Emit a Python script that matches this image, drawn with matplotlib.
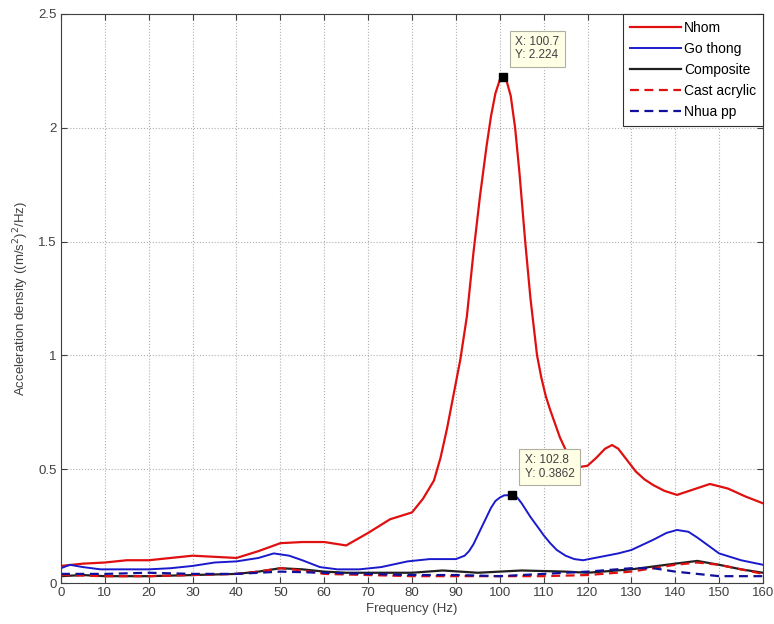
import numpy as np
import matplotlib.pyplot as plt

# PSD curves for the five plate materials (frequency in Hz, density in (m/s^2)^2/Hz)
f_nhom = [0, 5, 10, 15, 20, 25, 30, 35, 40, 45, 50, 55, 60, 65, 70, 75, 80, 82.5,
          85, 86.5, 88, 89.5, 91, 92.5, 94, 95.5, 97, 98, 99, 100, 100.7, 101.5,
          102.5, 103.5, 104.5, 105.8, 107, 108.5, 109.5, 110.5, 111.5, 112.6,
          113.7, 114.9, 116, 117.2, 118.3, 120, 122, 124, 125.6, 127, 129, 131,
          133, 135, 137.5, 140.4, 144, 147.9, 152, 156, 160]
nhom = [0.075, 0.085, 0.09, 0.10, 0.10, 0.11, 0.12, 0.115, 0.11, 0.14, 0.175,
        0.18, 0.18, 0.165, 0.22, 0.28, 0.31, 0.37, 0.45, 0.55, 0.68, 0.83, 0.98,
        1.17, 1.45, 1.70, 1.92, 2.05, 2.15, 2.21, 2.224, 2.21, 2.14, 2.0, 1.8,
        1.5, 1.25, 1.0, 0.9, 0.82, 0.76, 0.70, 0.64, 0.59, 0.55, 0.52, 0.51,
        0.515, 0.55, 0.59, 0.606, 0.59, 0.54, 0.49, 0.455, 0.43, 0.405, 0.387,
        0.41, 0.435, 0.415, 0.38, 0.35]

f_go = [0, 2, 5, 9, 15, 20, 25, 30, 35, 40, 45, 48.5, 52, 55, 59, 63, 68, 73,
        79, 84, 90, 92, 93, 94, 95, 96, 97, 98, 99, 100, 101, 102.8, 104, 105,
        106, 107, 108.7, 110, 111.5, 113, 115, 117, 119, 123, 127, 130, 135,
        138, 140.4, 143, 145, 150, 155, 160]
go_thong = [0.065, 0.08, 0.07, 0.06, 0.06, 0.06, 0.065, 0.075, 0.09, 0.095,
            0.11, 0.13, 0.12, 0.10, 0.07, 0.06, 0.06, 0.07, 0.095, 0.105, 0.105,
            0.12, 0.14, 0.17, 0.21, 0.25, 0.29, 0.33, 0.36, 0.375, 0.385,
            0.3862, 0.375, 0.35, 0.32, 0.29, 0.245, 0.21, 0.175, 0.145, 0.12,
            0.105, 0.10, 0.115, 0.13, 0.145, 0.19, 0.22, 0.233, 0.225, 0.20,
            0.13, 0.10, 0.08]

f_comp = [0, 5, 10, 20, 30, 40, 45, 50, 55, 60, 65, 70, 80, 87, 95, 105, 115,
          120, 130, 140, 145, 150, 155, 160]
composite = [0.03, 0.035, 0.03, 0.03, 0.035, 0.04, 0.05, 0.065, 0.06, 0.05,
             0.045, 0.045, 0.045, 0.055, 0.045, 0.055, 0.05, 0.045, 0.06, 0.085,
             0.097, 0.08, 0.06, 0.045]

f_acr = [0, 10, 20, 30, 40, 45, 50, 55, 60, 70, 80, 90, 100, 110, 120, 130,
         140, 145, 150, 160]
cast_acrylic = [0.035, 0.03, 0.03, 0.035, 0.04, 0.05, 0.065, 0.055, 0.04,
                0.035, 0.03, 0.03, 0.03, 0.03, 0.035, 0.05, 0.08, 0.09, 0.08,
                0.04]

f_pp = [0, 10, 20, 30, 40, 50, 60, 70, 80, 90, 100, 110, 120, 130, 135, 140,
        150, 160]
nhua_pp = [0.04, 0.04, 0.045, 0.04, 0.04, 0.05, 0.045, 0.04, 0.035, 0.035,
           0.03, 0.04, 0.05, 0.065, 0.065, 0.05, 0.03, 0.03]

# data cursors
tips = [(100.7, 2.224), (102.8, 0.3862)]

plt.rcParams['font.family'] = ['Liberation Sans', 'DejaVu Sans']
plt.rcParams['font.size'] = 9.5
txt = '#404040'

fig = plt.figure(figsize=(7.74, 6.24), dpi=100)
ax = fig.add_axes([0.0788, 0.0657, 0.907, 0.912])

ax.plot(f_nhom, nhom, color='#e01010', lw=1.6, label='Nhom')
ax.plot(f_go, go_thong, color='#1a1acc', lw=1.4, label='Go thong')
ax.plot(f_comp, composite, color='#202020', lw=1.6, label='Composite')
ax.plot(f_acr, cast_acrylic, color='#e01010', lw=1.6, ls='--', dashes=(4, 2.5),
        label='Cast acrylic')
ax.plot(f_pp, nhua_pp, color='#10109a', lw=1.6, ls='--', dashes=(4, 2.5),
        label='Nhua pp')

ax.set_xlim(0, 160)
ax.set_ylim(0, 2.5)
ax.set_xticks(np.arange(0, 161, 10))
ax.set_yticks([0, 0.5, 1, 1.5, 2, 2.5])
ax.set_yticklabels(['0', '0.5', '1', '1.5', '2', '2.5'])
ax.tick_params(direction='in', top=True, right=True, length=4,
               colors=txt, labelsize=9.5, pad=3)
ax.grid(True, ls=':', color='#b0b0b0', lw=0.8)
for s in ax.spines.values():
    s.set_color(txt)
    s.set_linewidth(0.8)

ax.set_xlabel('Frequency (Hz)', color=txt, labelpad=3)
ax.set_ylabel('Acceleration density ((m/s$^2$)$^2$/Hz)', color=txt,
              labelpad=5)

leg = ax.legend(loc='upper right', fancybox=False, framealpha=1,
                edgecolor='#303030', handlelength=3.7, handletextpad=0.2,
                borderaxespad=0, labelspacing=0.5, fontsize=10,
                borderpad=0.5)
leg.get_frame().set_linewidth(0.8)

for x, y in tips:
    ax.plot(x, y, 's', color='black', ms=5.5, zorder=6)
    ax.annotate('X: %s\nY: %s' % (x, y), (x, y), xytext=(9, 11),
                textcoords='offset points', fontsize=8.5, color=txt,
                va='bottom', ha='left', linespacing=1.15,
                bbox=dict(boxstyle='square,pad=0.45', fc='#ffffe6',
                          ec='#b0b0a0', lw=0.8), zorder=7)

fig.savefig('out.png', dpi=100, facecolor='white')
